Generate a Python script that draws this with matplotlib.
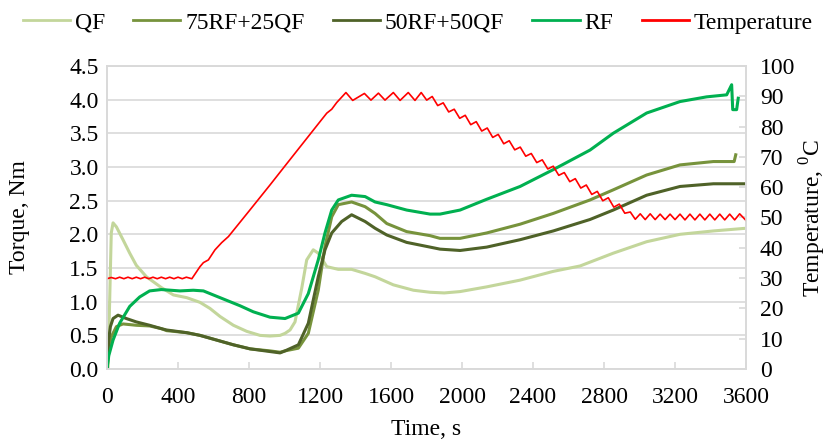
import matplotlib
matplotlib.use('Agg')
import matplotlib.pyplot as plt
from matplotlib.lines import Line2D

plt.rcParams['font.family'] = ['Liberation Serif', 'DejaVu Serif']
plt.rcParams['mathtext.fontset'] = 'custom'
plt.rcParams['mathtext.rm'] = 'Liberation Serif'
plt.rcParams['font.size'] = 17

# Torque curves (time in s, torque in Nm).
qf_t = [0, 6, 15, 24, 34, 53, 90, 128, 165, 222, 306, 374, 449, 524, 580, 637,
        712, 787, 862, 918, 975, 1003, 1031, 1059, 1097, 1125, 1162, 1190,
        1238, 1303, 1378, 1454, 1510, 1613, 1726, 1820, 1900, 1989, 2139,
        2327, 2514, 2665, 2852, 3040, 3228, 3416, 3600]
qf_torque = [0.0, 0.03, 1.02, 2.02, 2.17, 2.11, 1.92, 1.72, 1.54, 1.37, 1.21,
             1.10, 1.06, 0.99, 0.90, 0.78, 0.65, 0.56, 0.50, 0.49, 0.50, 0.53,
             0.58, 0.70, 1.20, 1.62, 1.77, 1.72, 1.52, 1.48, 1.48, 1.42, 1.37,
             1.25, 1.17, 1.14, 1.13, 1.15, 1.22, 1.32, 1.45, 1.53, 1.72, 1.89,
             2.00, 2.05, 2.09]

rf75_t = [0, 10, 24, 53, 90, 165, 240, 306, 336, 449, 524, 618, 712, 806, 918,
          975, 1003, 1078, 1134, 1190, 1228, 1266, 1303, 1378, 1454, 1510,
          1576, 1688, 1820, 1876, 1989, 2139, 2327, 2514, 2721, 2852, 3040,
          3228, 3416, 3533, 3542]
rf75_torque = [0.0, 0.30, 0.48, 0.63, 0.67, 0.65, 0.64, 0.60, 0.57, 0.54,
               0.50, 0.43, 0.36, 0.30, 0.27, 0.25, 0.27, 0.31, 0.53, 1.17,
               1.82, 2.26, 2.44, 2.48, 2.41, 2.31, 2.16, 2.04, 1.98, 1.94,
               1.94, 2.02, 2.15, 2.31, 2.51, 2.66, 2.88, 3.03, 3.08, 3.08, 3.18]

rf50_t = [0, 10, 19, 34, 62, 109, 165, 240, 306, 336, 449, 524, 618, 712, 806,
          918, 975, 1003, 1078, 1134, 1190, 1228, 1266, 1322, 1378, 1454,
          1510, 1576, 1688, 1820, 1876, 1989, 2139, 2327, 2514, 2721, 2852,
          3040, 3228, 3416, 3600]
rf50_torque = [0.0, 0.45, 0.63, 0.75, 0.80, 0.75, 0.70, 0.65, 0.60, 0.58,
               0.54, 0.50, 0.43, 0.36, 0.30, 0.26, 0.24, 0.27, 0.36, 0.68,
               1.37, 1.77, 2.02, 2.19, 2.29, 2.19, 2.09, 1.99, 1.88, 1.81,
               1.78, 1.76, 1.81, 1.92, 2.05, 2.22, 2.36, 2.58, 2.71, 2.75, 2.75]

rf_t = [0, 10, 34, 71, 128, 184, 240, 306, 411, 486, 543, 599, 674, 749, 824,
        918, 1003, 1078, 1134, 1190, 1228, 1266, 1303, 1378, 1454, 1510, 1576,
        1688, 1820, 1876, 1989, 2139, 2327, 2514, 2721, 2852, 3040, 3228, 3378,
        3491, 3519, 3525, 3547, 3556]
rf_torque = [0.0, 0.20, 0.43, 0.68, 0.93, 1.07, 1.16, 1.18, 1.16, 1.17, 1.16,
             1.10, 1.02, 0.94, 0.85, 0.77, 0.75, 0.83, 1.12, 1.62, 2.02, 2.36,
             2.51, 2.58, 2.56, 2.48, 2.44, 2.36, 2.30, 2.30, 2.36, 2.52, 2.71,
             2.96, 3.25, 3.50, 3.80, 3.97, 4.04, 4.07, 4.22, 3.85, 3.85, 4.02]

# Chamber temperature (time in s, temperature in deg C).
temp_t = [0, 24, 48, 71, 95, 118, 142, 165, 189, 212, 236, 259, 283, 306, 330,
          353, 377, 400, 424, 447, 478, 524, 543, 571, 608, 646, 684, 800, 918,
          1000, 1100, 1200, 1238, 1266, 1294, 1346, 1384, 1450, 1487, 1529,
          1566, 1613, 1651, 1697, 1735, 1770, 1801, 1832, 1863, 1894, 1925,
          1956, 1987, 2018, 2049, 2080, 2111, 2142, 2173, 2204, 2235, 2266,
          2297, 2328, 2359, 2390, 2421, 2452, 2483, 2514, 2545, 2576, 2607,
          2638, 2669, 2700, 2731, 2762, 2793, 2824, 2855, 2886, 2917, 2948,
          2976, 3004, 3032, 3060, 3088, 3116, 3144, 3172, 3200, 3228, 3256,
          3284, 3312, 3340, 3368, 3396, 3424, 3452, 3480, 3508, 3536, 3564, 3600]
temp_c = [29.8, 30.2, 29.8, 30.3, 29.8, 30.3, 29.8, 30.3, 29.8, 30.3, 29.8,
          30.3, 29.8, 30.3, 29.8, 30.3, 29.8, 30.3, 29.8, 30.3, 29.8, 33.8,
          35.1, 36.0, 39.3, 41.7, 43.7, 52.1, 60.7, 66.8, 74.2, 81.6, 84.4,
          85.7, 87.9, 91.2, 88.6, 90.9, 88.7, 91.0, 88.7, 91.2, 88.6, 91.2,
          88.6, 91.2, 88.7, 89.9, 86.9, 87.8, 84.8, 85.7, 82.7, 83.7, 80.6,
          81.6, 78.5, 79.5, 76.4, 77.4, 74.3, 75.3, 72.3, 73.2, 70.2, 71.1,
          68.1, 69.0, 66.0, 66.9, 63.9, 64.8, 61.8, 62.8, 59.7, 60.7, 57.6,
          58.6, 55.5, 56.5, 53.4, 54.4, 51.4, 51.8, 49.4, 51.2, 49.3, 51.2,
          49.3, 51.1, 49.3, 51.1, 49.3, 51.1, 49.2, 51.1, 49.2, 51.1, 49.2,
          51.1, 49.2, 51.1, 49.2, 51.1, 49.2, 51.2, 49.0]

labels = ['QF', '75RF+25QF', '50RF+50QF', 'RF', 'Temperature']
colors = ['#c3d69b', '#77933c', '#4f6228', '#00b050', '#ff0000']

grid_color = '#d9d9d9'

fig = plt.figure(figsize=(8.27, 4.42), dpi=100)
ax = fig.add_axes([0.1294, 0.165, 0.7727, 0.686])

ax.plot(qf_t, qf_torque, color=colors[0], lw=2.2)
ax.plot(rf75_t, rf75_torque, color=colors[1], lw=2.2)
ax.plot(rf50_t, rf50_torque, color=colors[2], lw=2.2)
ax.plot(rf_t, rf_torque, color=colors[3], lw=2.2)

ax.set_xlim(0, 3600)
ax.set_ylim(0, 4.5)
ax.set_xticks(range(0, 3601, 400))
ax.set_yticks([i * 0.5 for i in range(10)])
ax.set_yticklabels(['%.1f' % (i * 0.5) for i in range(10)])
ax.grid(axis='y', color=grid_color, lw=1.2)
ax.set_axisbelow(True)
ax.tick_params(axis='x', direction='in', length=5, color=grid_color,
               width=1.2, pad=13)
ax.tick_params(axis='y', length=0, pad=6)
for s in ax.spines.values():
    s.set_color(grid_color)
    s.set_linewidth(1.2)
ax.set_xlabel('Time, s', labelpad=8)
ax.set_ylabel('Torque, Nm', labelpad=28)

ax2 = ax.twinx()
ax2.plot(temp_t, temp_c, color=colors[4], lw=1.2)
ax2.set_ylim(0, 100)
ax2.set_yticks(range(0, 101, 10))
ax2.tick_params(axis='y', direction='in', length=5, color=grid_color,
                width=1.2, pad=10)
for s in ax2.spines.values():
    s.set_color(grid_color)
    s.set_linewidth(1.2)
ax2.set_ylabel('Temperature, $^0$C', labelpad=2)

handles = [Line2D([], [], color=c, lw=2.0) for c in colors]
fig.legend(handles, labels, loc='upper center', bbox_to_anchor=(0.505, 1.01),
           ncol=5, frameon=False, handlelength=2.0, columnspacing=1.2,
           handletextpad=0.2, borderaxespad=0.3)

fig.savefig('out.png', dpi=100)
